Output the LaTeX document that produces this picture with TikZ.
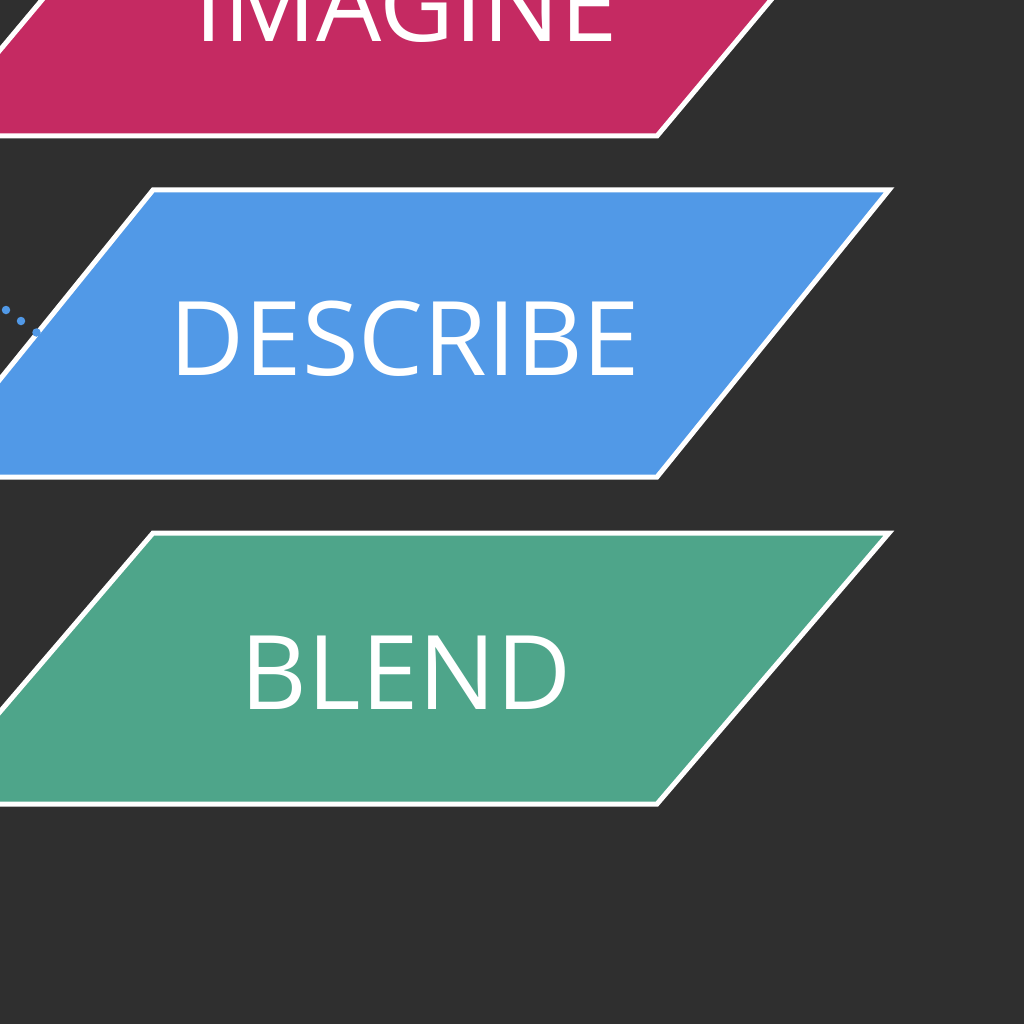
\documentclass[tikz,border=0pt]{standalone}
\usepackage{fontspec}
\setmainfont{Open Sans}
\usetikzlibrary{positioning}

\definecolor{bgdark}{HTML}{2F2F2F}
\definecolor{imaginecol}{HTML}{C52A62}
\definecolor{describecol}{HTML}{5199E7}
\definecolor{blendcol}{HTML}{4EA58A}

\begin{document}
\begin{tikzpicture}[
  x=1pt,y=-1pt,
  panel/.style={draw=white,line width=5pt,line join=miter},
  word/.style={text=white,inner sep=0pt,font=\fontsize{103}{110}\selectfont},
  dot/.style={circle,fill=describecol,inner sep=0pt,minimum size=8.5pt}
]
\useasboundingbox (0,0) rectangle (1024,1024);
\fill[bgdark] (0,0) rectangle (1024,1024);
\clip (0,0) rectangle (1024,1024);

% panels
\draw[panel,fill=imaginecol] (160,-141) -- (889,-141) -- (657,136) -- (-72,136) -- cycle;
\draw[panel,fill=describecol] (153,190) -- (889,190) -- (657,477) -- (-79,477) -- cycle;
\draw[panel,fill=blendcol] (153,533) -- (889,533) -- (657,804) -- (-79,804) -- cycle;

% labels
\node[word,anchor=base] (imagine) at (406,42) {IMAGINE};
\node[word,anchor=base] (describe) at (405,375) {DESCRIBE};
\node[word,anchor=base] (blend) at (406,709) {BLEND};

% dots
\node[dot] (d1) at (6,310) {};
\node[dot] (d2) at (21,321) {};
\node[dot] (d3) at (36.5,332.5) {};
\end{tikzpicture}
\end{document}
